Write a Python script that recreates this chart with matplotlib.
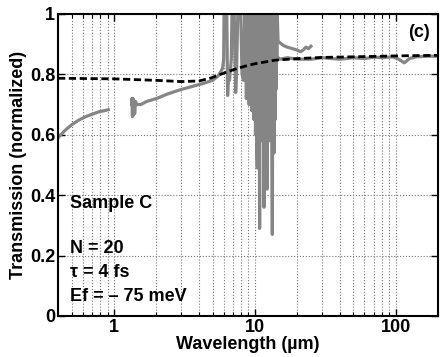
import numpy as np
import matplotlib.pyplot as plt

# measured transmission, short-wavelength piece
seg1_wl = [0.40, 0.45, 0.50, 0.56, 0.63, 0.70, 0.78, 0.86, 0.91]
seg1_T = [0.590, 0.615, 0.633, 0.648, 0.660, 0.668, 0.676, 0.680, 0.683]

# measured transmission, mid-IR piece (noisy around 6-14 um), upper branch to 25 um
seg2_wl = [1.33, 1.34, 1.35, 1.36, 1.37, 1.38, 1.40, 1.42, 1.45, 1.55, 1.70, 2.0, 2.4, 3.0,
           3.6, 4.3, 5.0, 5.5, 5.9, 6.0, 6.05, 6.3, 6.4, 6.5, 6.6, 6.8, 6.9, 7.1, 7.3,
           7.4, 7.6, 7.9, 8.1, 8.3, 8.5, 8.7, 8.9, 9.1, 9.3, 9.5, 9.7, 9.85,
           10.0, 10.1, 10.2, 10.3, 10.4, 10.5, 10.6, 10.7, 10.8, 10.9, 11.0, 11.1, 11.2,
           11.3, 11.4, 11.5, 11.6, 11.7, 11.8, 11.9, 12.0, 12.1, 12.2, 12.3, 12.4, 12.5,
           12.6, 12.7, 12.8, 12.9, 13.0, 13.1, 13.2, 13.3, 13.4, 13.5, 13.6, 13.7, 13.8,
           13.9, 14.0, 14.1, 14.2, 14.3, 14.4, 14.6, 15.0, 16.0, 17.0, 18.5, 20.0, 21.0,
           22.0, 23.0, 24.0, 25.0]
seg2_T = [0.700, 0.720, 0.660, 0.720, 0.665, 0.715, 0.670, 0.710, 0.700, 0.700, 0.710, 0.720,
          0.735, 0.750, 0.760, 0.770, 0.780, 0.795, 0.820, 0.850, 1.05, 1.05, 0.730, 0.800,
          0.780, 0.850, 1.05, 1.05, 0.740, 0.800, 1.05, 1.05, 0.800, 0.780, 1.05, 0.720,
          1.05, 0.700, 1.05, 0.680, 1.05, 0.650,
          1.05, 0.600, 1.05, 0.550, 0.490, 1.05, 0.600, 1.05, 0.290, 1.05, 0.580, 1.05,
          0.600, 1.05, 0.620, 1.05, 0.360, 1.05, 0.600, 1.05, 0.580, 1.05, 0.420, 1.05,
          0.600, 1.05, 0.580, 1.05, 0.600, 1.05, 0.620, 1.05, 0.580, 0.270, 1.05, 0.600,
          1.05, 0.540, 1.05, 0.650, 1.05, 0.750, 1.05, 0.850, 1.00, 0.910, 0.905, 0.895,
          0.890, 0.885, 0.880, 0.875, 0.880, 0.890, 0.885, 0.893]

# lower branch continuing to far IR
seg3_wl = [14.3, 15, 17, 20, 25, 30, 40, 50, 60, 70, 80, 95, 105, 115, 125, 140, 170, 200]
seg3_T = [0.860, 0.850, 0.855, 0.850, 0.850, 0.855, 0.850, 0.855, 0.852, 0.857, 0.855, 0.858,
          0.850, 0.838, 0.852, 0.858, 0.860, 0.860]

# model (dashed)
model_wl = [0.4, 1, 2, 3, 4, 4.8, 5.7, 7, 8.5, 10, 14, 20, 30, 50, 100, 200]
model_T = [0.787, 0.785, 0.780, 0.776, 0.778, 0.787, 0.800, 0.815, 0.827, 0.835, 0.847,
           0.852, 0.856, 0.858, 0.861, 0.863]

plt.rcParams['font.family'] = ['Liberation Sans', 'DejaVu Sans']
plt.rcParams['font.weight'] = 'bold'

fig = plt.figure(figsize=(4.43, 3.57), dpi=100)
ax = fig.add_axes([0.131, 0.115, 0.858, 0.846])

gray = '#858585'
ax.plot(seg1_wl, seg1_T, color=gray, lw=2.3)
ax.plot(seg2_wl, seg2_T, color=gray, lw=2.3)
ax.plot(seg3_wl, seg3_T, color=gray, lw=2.3)
ax.plot(model_wl, model_T, color='black', lw=2.0, linestyle=(0, (2.6, 1.3)))

ax.set_xscale('log')
ax.set_xlim(0.4, 200)
ax.set_ylim(0, 1)
ax.set_yticks([0, 0.2, 0.4, 0.6, 0.8, 1])
ax.set_yticklabels(['0', '0.2', '0.4', '0.6', '0.8', '1'])
ax.set_xticks([1, 10, 100])
ax.set_xticklabels(['1', '10', '100'])

ax.grid(True, which='major', linestyle=':', color='#777777', lw=0.8)
ax.grid(True, which='minor', axis='x', linestyle=':', color='#777777', lw=0.8)
ax.tick_params(which='both', direction='in', top=True, right=True, labelsize=13, pad=2)
ax.tick_params(which='major', length=5, width=1)
ax.tick_params(which='minor', length=3, width=0.8)
for s in ax.spines.values():
    s.set_linewidth(1.5)

ax.set_xlabel('Wavelength (µm)', fontsize=13, fontweight='bold', labelpad=0)
ax.set_ylabel('Transmission (normalized)', fontsize=13, fontweight='bold', labelpad=2)

tkw = dict(transform=ax.transAxes, fontsize=13, fontweight='bold', va='center', ha='left')
ax.text(0.032, 0.373, 'Sample C', **tkw)
ax.text(0.032, 0.223, 'N = 20', **tkw)
ax.text(0.032, 0.145, 'τ = 4 fs', **tkw)
ax.text(0.032, 0.065, 'Ef = – 75 meV', **tkw)
ax.text(0.979, 0.937, '(c)', transform=ax.transAxes, fontsize=13, fontweight='bold',
        va='center', ha='right')

fig.savefig('out.png', dpi=100)
